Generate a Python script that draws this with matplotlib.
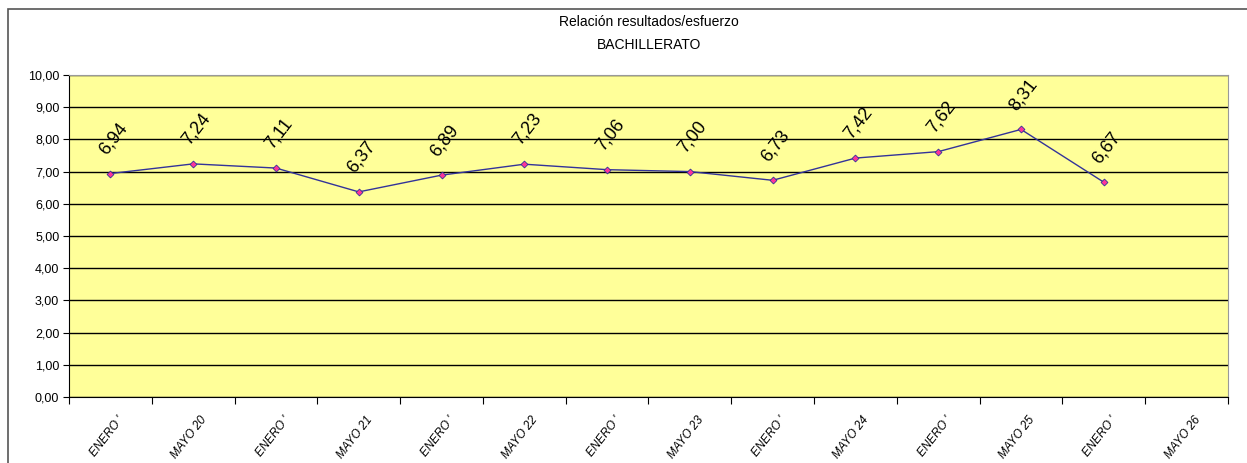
import numpy as np
import matplotlib.pyplot as plt
from matplotlib.patches import Rectangle

plt.rcParams['font.family'] = ['Liberation Sans Narrow', 'Liberation Sans', 'DejaVu Sans']

# datos
etiquetas = ["ENERO '", "MAYO 20", "ENERO '", "MAYO 21", "ENERO '", "MAYO 22",
             "ENERO '", "MAYO 23", "ENERO '", "MAYO 24", "ENERO '", "MAYO 25",
             "ENERO '", "MAYO 26"]
valores = [6.94, 7.24, 7.11, 6.37, 6.89, 7.23, 7.06, 7.00, 6.73, 7.42, 7.62, 8.31, 6.67]
yticks = [0, 1, 2, 3, 4, 5, 6, 7, 8, 9, 10]

fig = plt.figure(figsize=(12.47, 4.63), dpi=100)

# marco del grafico
fig.patches.append(Rectangle((8/1247, -0.1), 1.2, 1 - 9/463 + 0.1, transform=fig.transFigure,
                             fill=False, edgecolor='#555555', lw=1.2))

ax = fig.add_axes([69/1247, 1 - 397/463, (1228 - 69)/1247, (397 - 75)/463])
ax.set_facecolor('#FFFF99')

n = len(etiquetas)
x = np.arange(len(valores))
ax.plot(x, valores, color='#333399', lw=1, marker='D', ms=3.5,
        markerfacecolor='#FF3399', markeredgecolor='#333399', markeredgewidth=0.6, zorder=3)

# etiquetas de datos
for xi, v in zip(x, valores):
    ax.annotate(f"{v:.2f}".replace('.', ','), (xi, v), xytext=(2, 25), textcoords='offset points',
                rotation=52, ha='center', va='center', fontsize=13)

ax.set_xlim(-0.5, n - 0.5)
ax.set_ylim(0, 10)
ax.set_yticks(yticks)
ax.set_yticklabels([f"{t:.2f}".replace('.', ',') for t in yticks], fontsize=9)
ax.yaxis.grid(True, color='black', lw=1)
ax.set_axisbelow(True)

# ticks en los limites de las categorias
ax.set_xticks(np.arange(-0.5, n, 1), minor=False)
ax.set_xticklabels([])
ax.set_xticks(np.arange(n) + 0.08, minor=True)
ax.set_xticklabels(etiquetas, minor=True, rotation=52, ha='right', rotation_mode='anchor',
                   fontsize=8.5, style='italic')
ax.tick_params(axis='x', which='minor', length=0, pad=12)
ax.tick_params(axis='x', which='major', length=5, direction='out', color='black')
ax.tick_params(axis='y', length=4, direction='out', pad=3)

for s in ['top', 'right']:
    ax.spines[s].set_color('#999999')
for s in ['left', 'bottom']:
    ax.spines[s].set_color('black')

fig.text(649/1247, 1 - 22/463, "Relación resultados/esfuerzo", ha='center', va='center', fontsize=10)
fig.text(649/1247, 1 - 45/463, "BACHILLERATO", ha='center', va='center', fontsize=10)

fig.savefig('out.png', dpi=100)
